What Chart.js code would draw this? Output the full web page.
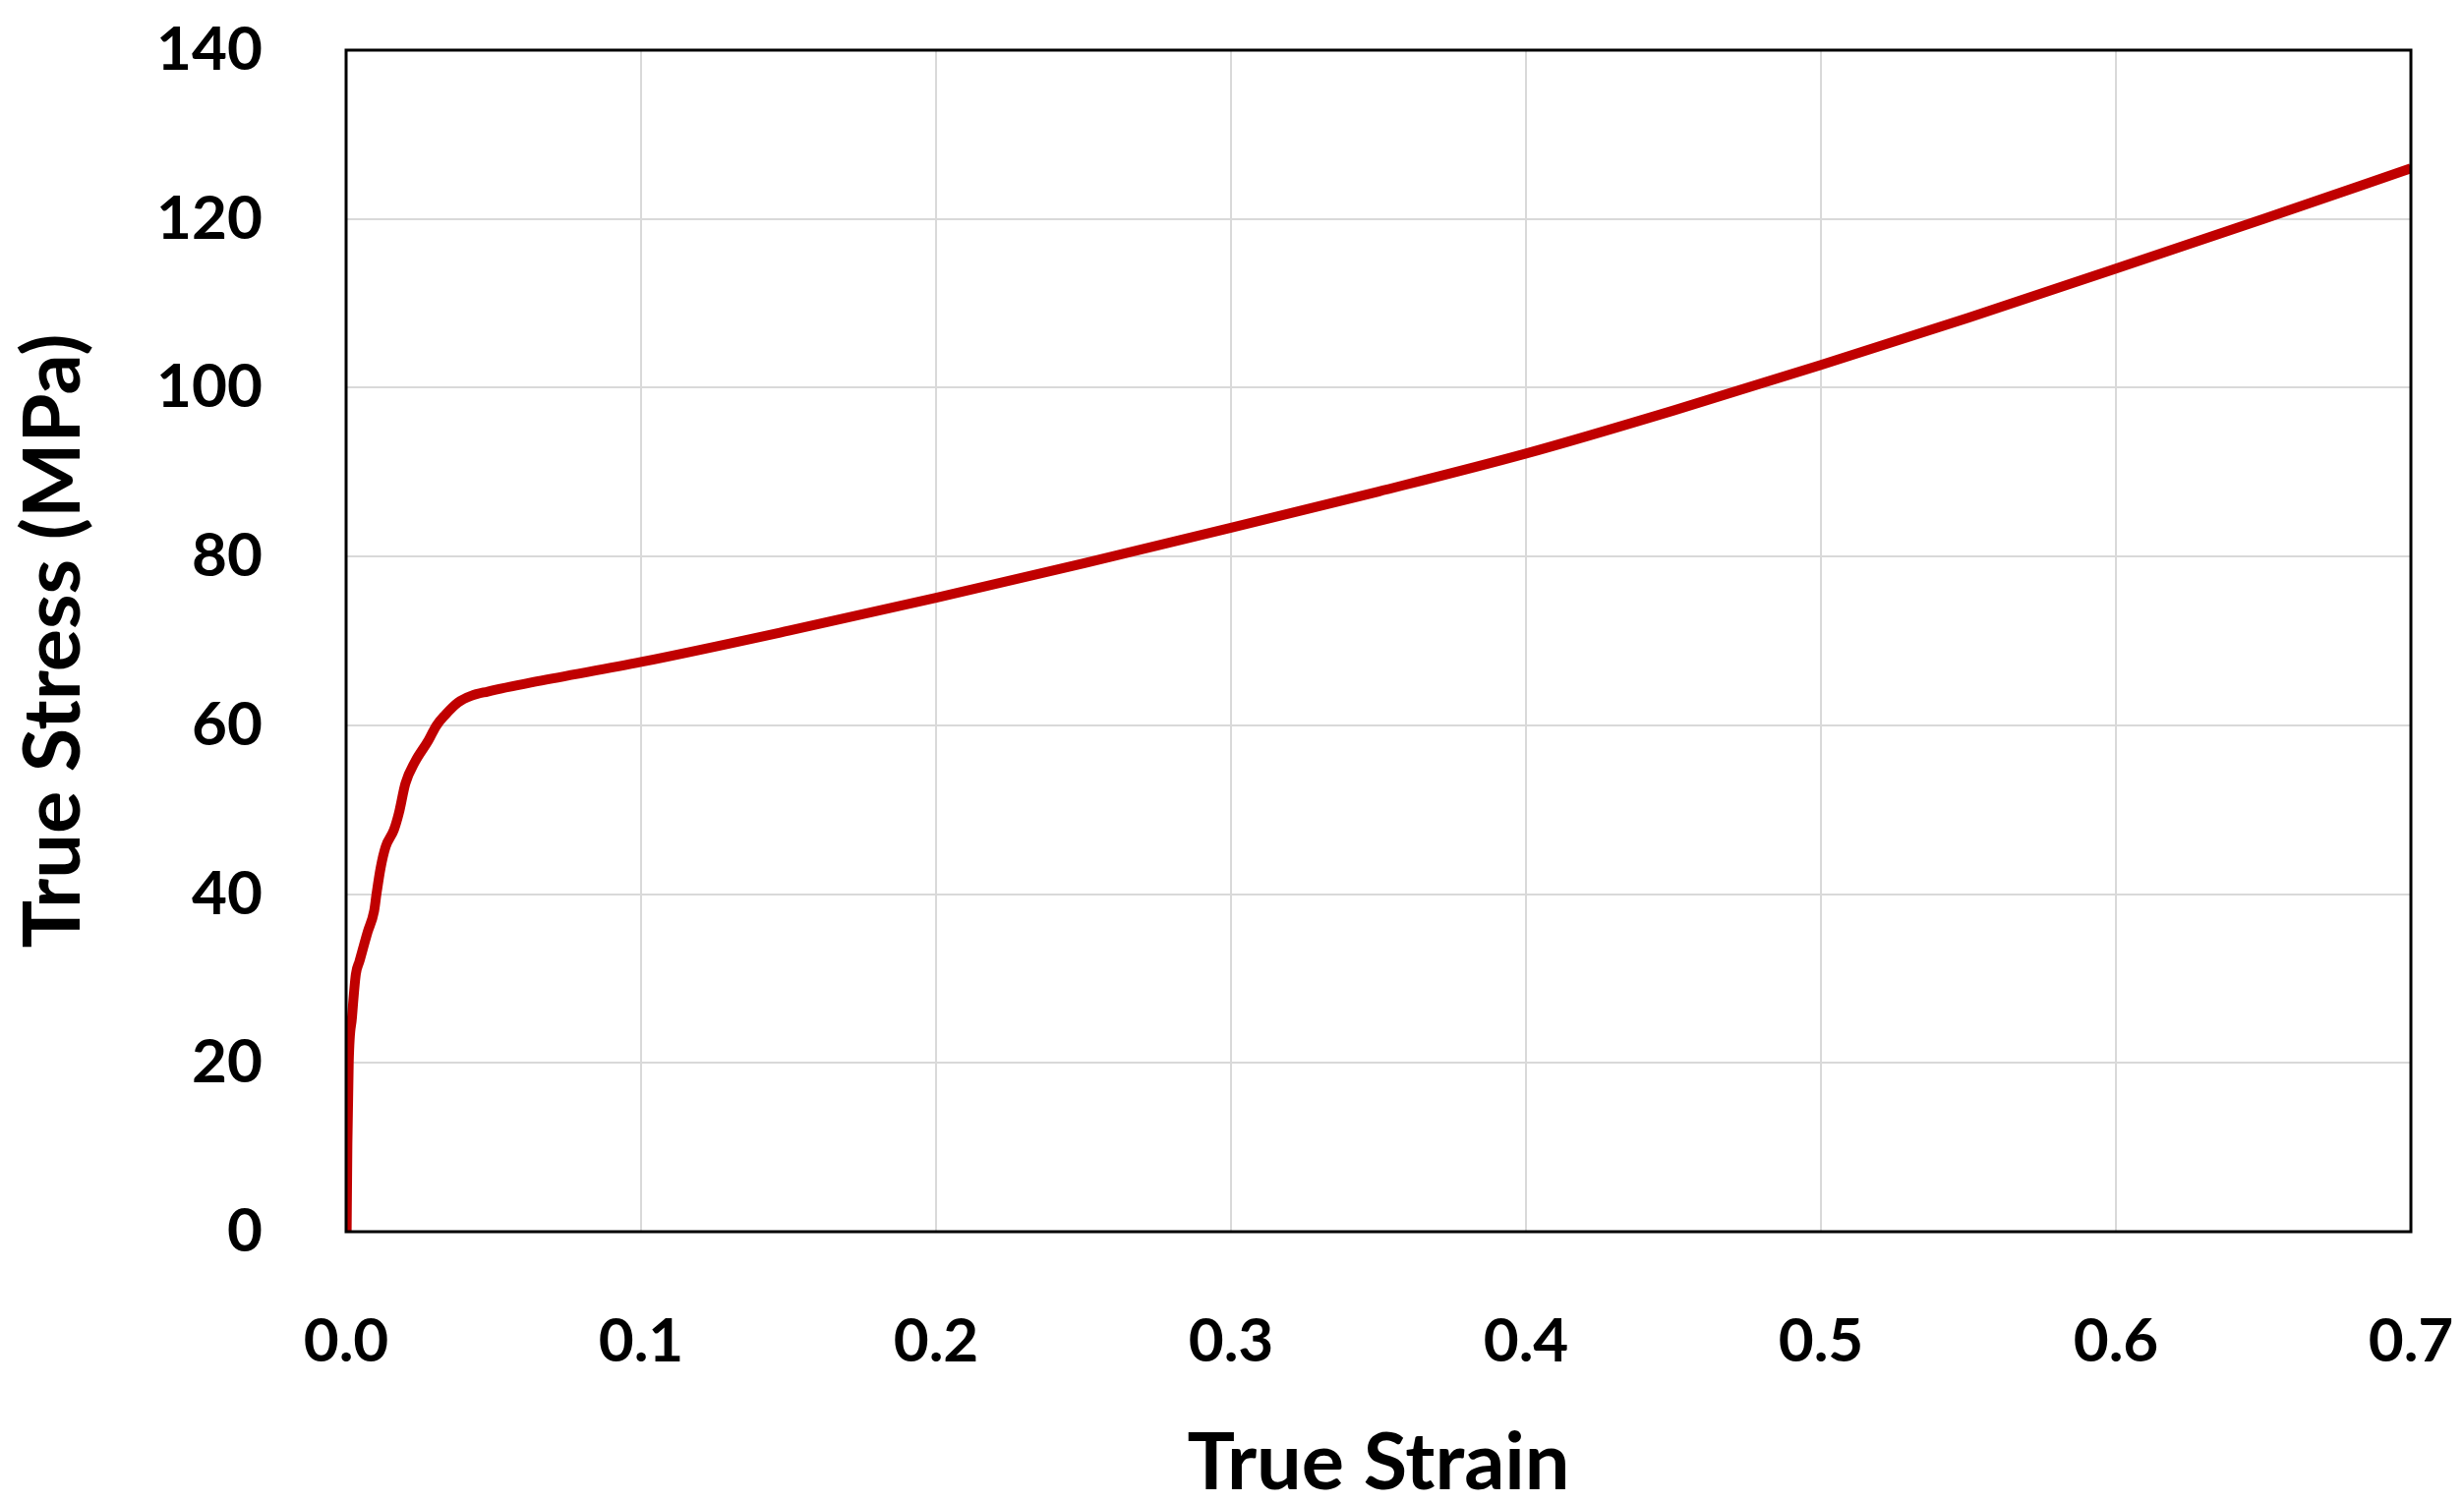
<!DOCTYPE html>
<html lang="en">
<head>
    <meta charset="UTF-8">
    <title>True Stress vs True Strain</title>
    <script src="https://cdnjs.cloudflare.com/ajax/libs/Chart.js/4.4.0/chart.umd.min.js"></script>
    <style>
        body {
            margin: 0;
            background-color: white;
        }
        .chart-container {
            width: 2506px;
            height: 1529px;
            position: relative;
        }
    </style>
</head>
<body>
    <div class="chart-container">
        <canvas id="stressChart"></canvas>
    </div>

    <script>
        // Values
        const strain = [0.0002, 0.00045, 0.0009, 0.002, 0.0033, 0.0045, 0.0073, 0.0095, 0.0103,
            0.0117, 0.0134, 0.0162, 0.0179, 0.0201, 0.0234, 0.0279, 0.0305, 0.0335, 0.0379,
            0.0424, 0.048, 0.0647, 0.1, 0.15, 0.2, 0.25, 0.3, 0.35, 0.4, 0.45,
            0.5, 0.55, 0.6, 0.65, 0.7];
        const stress = [0, 10.3, 20, 25.4, 30.5, 32, 35.5, 38, 40,
            43.1, 45.6, 47.6, 49.6, 53.1, 55.7, 58.2, 59.9, 61.2, 62.7,
            63.5, 64, 65.2, 67.5, 71.2, 75.1, 79.2, 83.4, 87.7, 92.2, 97.3,
            102.7, 108.3, 114.1, 120.0, 126];

        const xTicks = [0, 0.1, 0.2, 0.3, 0.4, 0.5, 0.6, 0.7];
        const yTicks = [0, 20, 40, 60, 80, 100, 120, 140];

        const points = strain.map((s, i) => ({ x: s, y: stress[i] }));

        // Black frame round the plot area
        const frame = {
            id: 'frame',
            afterDatasetsDraw(chart) {
                const { ctx, chartArea } = chart;
                ctx.save();
                ctx.strokeStyle = '#000';
                ctx.lineWidth = 3;
                ctx.strokeRect(chartArea.left, chartArea.top,
                    chartArea.right - chartArea.left, chartArea.bottom - chartArea.top);
                ctx.restore();
            }
        };

        const tickFont = { family: 'Lato', weight: 'bold', size: 62 };
        const titleFont = { family: 'Lato', weight: 'bold', size: 81, lineHeight: 1.0 };

        new Chart(document.getElementById('stressChart'), {
            type: 'line',
            data: {
                datasets: [{
                    label: 'True Stress',
                    data: points,
                    borderColor: '#c00000',
                    borderWidth: 10,
                    pointRadius: 0,
                    fill: false,
                    cubicInterpolationMode: 'monotone'
                }]
            },
            plugins: [frame],
            options: {
                responsive: true,
                maintainAspectRatio: false,
                animation: false,
                layout: {
                    padding: { left: 14, top: 51, right: 54, bottom: 0 }
                },
                plugins: {
                    legend: { display: false },
                    tooltip: { enabled: false }
                },
                scales: {
                    x: {
                        type: 'linear',
                        min: 0,
                        max: 0.7,
                        afterBuildTicks: axis => { axis.ticks = xTicks.map(v => ({ value: v })); },
                        afterFit: axis => {
                            axis.height = 276;
                            axis.paddingLeft = 0;
                            axis.paddingRight = 0;
                        },
                        grid: { color: '#d9d9d9', lineWidth: 2, drawTicks: false },
                        border: { display: false },
                        ticks: {
                            color: '#000',
                            font: tickFont,
                            padding: 75,
                            maxRotation: 0,
                            callback: v => v.toFixed(1)
                        },
                        title: {
                            display: true,
                            text: 'True Strain',
                            color: '#000',
                            font: titleFont,
                            padding: { top: 0, bottom: 0 }
                        }
                    },
                    y: {
                        min: 0,
                        max: 140,
                        afterBuildTicks: axis => { axis.ticks = yTicks.map(v => ({ value: v })); },
                        afterFit: axis => {
                            axis.width = 338;
                            axis.paddingTop = 0;
                            axis.paddingBottom = 0;
                        },
                        grid: { color: '#d9d9d9', lineWidth: 2, drawTicks: false },
                        border: { display: false },
                        ticks: {
                            color: '#000',
                            font: tickFont,
                            padding: 85
                        },
                        title: {
                            display: true,
                            text: 'True Stress (MPa)',
                            color: '#000',
                            font: titleFont,
                            padding: { top: 0, bottom: 0 }
                        }
                    }
                }
            }
        });
    </script>
</body>
</html>
